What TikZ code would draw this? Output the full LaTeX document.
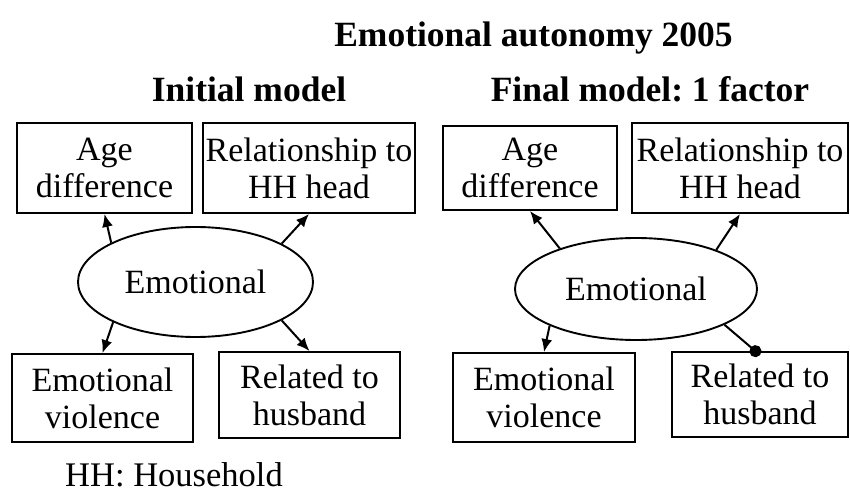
\documentclass[tikz,border=0pt]{standalone}
\usepackage{fontspec}
\setmainfont{Liberation Serif}
\usetikzlibrary{shapes.geometric,arrows.meta}

\tikzset{
  varbox/.style={draw, line width=1.9pt, inner sep=0pt, align=center,
    font=\fontsize{34}{37}\selectfont},
  factor/.style={draw, ellipse, line width=1.9pt, inner sep=0pt,
    font=\fontsize{34}{37}\selectfont},
  heading/.style={anchor=base, inner sep=0pt,
    font=\fontsize{35.5}{40}\selectfont\bfseries},
  note/.style={anchor=base, inner sep=0pt, font=\fontsize{34.5}{40}\selectfont},
  load/.style={line width=2pt, -{Latex[length=13pt,width=11pt]}},
  loaddot/.style={line width=2pt, -{Circle[length=12pt,width=12pt]}}
}

\begin{document}
\frenchspacing
\begin{tikzpicture}[x=1pt,y=-1pt]
  \useasboundingbox (0,0) rectangle (850,494);

  % titles
  \node[heading] (title) at (533.5,47) {Emotional autonomy 2005};
  \node[heading] (tleft) at (249,102) {Initial model};
  \node[heading] (tright) at (650,102) {Final model: 1 factor};

  % initial model
  \node[factor, minimum width=235pt, minimum height=110pt] (eL) at (195.5,282) {Emotional};
  \node[varbox, minimum width=175pt, minimum height=90pt] (ageL) at (104.5,168) {Age\\difference};
  \node[varbox, minimum width=212pt, minimum height=90pt] (relL) at (309,168) {Relationship to\\HH head};
  \node[varbox, minimum width=181pt, minimum height=88pt] (evL) at (102.5,398) {Emotional\\violence};
  \node[varbox, minimum width=181pt, minimum height=86pt] (husL) at (309.5,395) {Related to\\husband};

  \draw[load] (eL.155) -- (ageL.south);
  \draw[load] (eL.24) -- (relL.south);
  \draw[load] (eL.206) -- (evL.north);
  \draw[load] (eL.336) -- (husL.north);

  % final model
  \node[factor, minimum width=242pt, minimum height=102pt] (eR) at (636,289) {Emotional};
  \node[varbox, minimum width=174pt, minimum height=84pt] (ageR) at (530,168) {Age\\difference};
  \node[varbox, minimum width=216pt, minimum height=90pt] (relR) at (740,168) {Relationship to\\HH head};
  \node[varbox, minimum width=182pt, minimum height=89pt] (evR) at (544,397.5) {Emotional\\violence};
  \node[varbox, minimum width=176pt, minimum height=85pt] (husR) at (760,394.5) {Related to\\husband};

  \draw[load] (eR.152) -- (ageR.south);
  \draw[load] (eR.26) -- (relR.south);
  \draw[load] (eR.203) -- (evR.north);
  \draw[loaddot] (eR.338) -- ([yshift=-4pt]husR.north);

  % footnote
  \node[note] (hh) at (174,486) {HH: Household};
\end{tikzpicture}
\end{document}
